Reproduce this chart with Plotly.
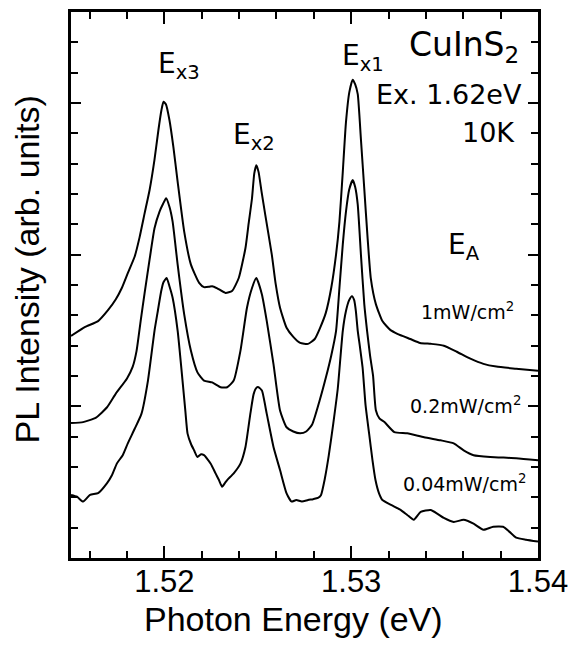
import plotly.graph_objects as go

# ---------------- data ----------------
# Photon energy (eV) and PL intensity (arb. units, offset traces)
e_1mw = [1.51500, 1.51576, 1.51645, 1.51698, 1.51740, 1.51772, 1.51804, 1.51841, 1.51867,
         1.51894, 1.51921, 1.51947, 1.51968, 1.51984, 1.51995, 1.52008, 1.52027, 1.52048,
         1.52071, 1.52106, 1.52142, 1.52186, 1.52212, 1.52239, 1.52256, 1.52283, 1.52327,
         1.52362, 1.52398, 1.52434, 1.52451, 1.52469, 1.52481, 1.52492, 1.52504, 1.52520,
         1.52540, 1.52575, 1.52595, 1.52619, 1.52654, 1.52690, 1.52727, 1.52769, 1.52805,
         1.52833, 1.52864, 1.52893, 1.52919, 1.52937, 1.52955, 1.52972, 1.52990, 1.53008,
         1.53021, 1.53035, 1.53052, 1.53070, 1.53088, 1.53105, 1.53132, 1.53167, 1.53209,
         1.53247, 1.53316, 1.53369, 1.53427, 1.53496, 1.53565, 1.53638, 1.53708, 1.53777,
         1.53883, 1.54000]
i_1mw = [7.32, 7.62, 7.81, 8.17, 8.53, 8.90, 9.39, 9.94, 10.57,
         11.36, 12.14, 13.13, 14.11, 14.76, 15.04, 14.96, 14.44, 13.55,
         12.40, 10.76, 9.67, 9.07, 8.93, 8.94, 8.96, 8.89, 8.74,
         8.80, 9.23, 10.22, 11.03, 11.86, 12.67, 12.95, 12.73, 12.08,
         11.31, 10.00, 9.06, 8.25, 7.59, 7.29, 7.09, 7.06, 7.22,
         7.58, 8.08, 8.90, 10.01, 11.09, 12.73, 14.37, 15.36, 15.77,
         15.62, 15.29, 13.81, 12.17, 10.53, 9.22, 8.37, 7.81, 7.52,
         7.39, 7.22, 7.09, 7.06, 7.00, 6.80, 6.57, 6.40, 6.31,
         6.24, 6.17]

e_02mw = [1.51500, 1.51565, 1.51634, 1.51693, 1.51740, 1.51799, 1.51830, 1.51851, 1.51873,
          1.51894, 1.51921, 1.51947, 1.51974, 1.51993, 1.52009, 1.52027, 1.52044, 1.52071,
          1.52106, 1.52142, 1.52177, 1.52212, 1.52256, 1.52301, 1.52336, 1.52371, 1.52407,
          1.52442, 1.52469, 1.52492, 1.52522, 1.52548, 1.52584, 1.52619, 1.52654, 1.52690,
          1.52727, 1.52759, 1.52791, 1.52831, 1.52864, 1.52893, 1.52919, 1.52937, 1.52955,
          1.52972, 1.52989, 1.53008, 1.53021, 1.53035, 1.53052, 1.53070, 1.53085, 1.53101,
          1.53117, 1.53132, 1.53151, 1.53178, 1.53231, 1.53300, 1.53390, 1.53478, 1.53549,
          1.53602, 1.53655, 1.53744, 1.53883, 1.54000]
i_02mw = [4.45, 4.48, 4.63, 4.97, 5.42, 5.91, 6.30, 6.83, 7.82,
          8.73, 9.85, 10.87, 11.42, 11.68, 11.86, 11.58, 11.09, 9.67,
          8.03, 6.83, 6.12, 5.85, 5.79, 5.63, 5.63, 5.85, 6.83,
          8.25, 8.90, 9.23, 8.69, 7.81, 6.39, 4.86, 4.31, 4.17,
          4.11, 4.17, 4.40, 5.19, 5.94, 6.67, 7.49, 8.90, 10.34,
          11.42, 12.14, 12.46, 12.24, 11.65, 10.01, 8.37, 7.49, 6.67,
          6.01, 4.87, 4.60, 4.48, 4.15, 4.11, 3.98, 3.88, 3.78,
          3.55, 3.39, 3.33, 3.29, 3.22]

e_004mw = [1.51500, 1.51532, 1.51565, 1.51602, 1.51645, 1.51693, 1.51719, 1.51746, 1.51777,
           1.51804, 1.51841, 1.51877, 1.51912, 1.51947, 1.51963, 1.51983, 1.51995, 1.52012,
           1.52027, 1.52044, 1.52071, 1.52097, 1.52112, 1.52124, 1.52143, 1.52159, 1.52177,
           1.52196, 1.52212, 1.52248, 1.52274, 1.52292, 1.52309, 1.52324, 1.52336, 1.52371,
           1.52407, 1.52434, 1.52460, 1.52478, 1.52494, 1.52504, 1.52522, 1.52548, 1.52584,
           1.52619, 1.52654, 1.52681, 1.52706, 1.52736, 1.52769, 1.52796, 1.52822, 1.52838,
           1.52859, 1.52880, 1.52904, 1.52928, 1.52955, 1.52972, 1.52989, 1.53004, 1.53016,
           1.53025, 1.53035, 1.53047, 1.53061, 1.53077, 1.53096, 1.53114, 1.53130, 1.53149,
           1.53167, 1.53213, 1.53266, 1.53300, 1.53335, 1.53372, 1.53425, 1.53464, 1.53496,
           1.53549, 1.53602, 1.53655, 1.53708, 1.53760, 1.53813, 1.53846, 1.53883, 1.53936,
           1.54000]
i_004mw = [2.08, 2.02, 1.86, 2.08, 2.14, 2.47, 2.73, 3.12, 3.39,
           3.78, 4.26, 4.75, 5.85, 7.49, 8.08, 8.80, 9.09, 9.23,
           8.96, 8.58, 7.49, 5.85, 4.86, 4.10, 3.75, 3.55, 3.33,
           3.42, 3.39, 3.11, 2.79, 2.57, 2.35, 2.47, 2.57, 2.79,
           3.11, 3.66, 4.75, 5.41, 5.62, 5.63, 5.52, 4.75, 3.66,
           2.90, 2.13, 1.86, 1.91, 1.86, 1.91, 1.94, 1.98, 2.07,
           2.62, 3.38, 4.43, 5.58, 7.49, 8.14, 8.50, 8.63, 8.50,
           8.14, 7.49, 6.95, 6.28, 5.03, 4.10, 3.22, 2.57, 2.13,
           1.91, 1.75, 1.58, 1.42, 1.26, 1.52, 1.58, 1.45, 1.32,
           1.19, 1.26, 1.13, 0.93, 1.03, 1.03, 0.87, 0.67, 0.60,
           0.54]

x_tickvals = [1.52, 1.53, 1.54]
x_ticktext = ["1.52", "1.53", "1.54"]

# ---------------- figure ----------------
fig = go.Figure()
for ex, iy in [(e_1mw, i_1mw), (e_02mw, i_02mw), (e_004mw, i_004mw)]:
    fig.add_trace(go.Scatter(x=ex, y=iy, mode="lines",
                             line=dict(color="black", width=2, shape="spline", smoothing=0.5),
                             showlegend=False, hoverinfo="skip"))

axis_font = dict(family="Liberation Sans, Arial, sans-serif", size=31, color="black")

fig.update_layout(
    width=577, height=646,
    margin=dict(l=71, r=35, t=9, b=88, pad=0),
    paper_bgcolor="white", plot_bgcolor="white",
    xaxis=dict(range=[1.515, 1.54], tickmode="array", tickvals=x_tickvals, ticktext=x_ticktext,
               ticks="inside", ticklen=12, tickwidth=1.5, tickcolor="black",
               ticklabelstandoff=-6,
               minor=dict(ticks="inside", ticklen=7, tickwidth=1.5, tickcolor="black",
                          tickmode="linear", tick0=1.514, dtick=0.002, showgrid=False),
               showline=True, linewidth=2.5, linecolor="black", mirror="ticks",
               showgrid=False, zeroline=False, tickfont=axis_font),
    yaxis=dict(range=[0, 18], tickmode="linear", tick0=0, dtick=5,
               ticks="inside", ticklen=10, tickwidth=1.5, tickcolor="black",
               minor=dict(ticks="inside", ticklen=7, tickwidth=1.5, tickcolor="black",
                          tickmode="linear", tick0=0, dtick=1, showgrid=False),
               showline=True, linewidth=2.5, linecolor="black", mirror="ticks",
               showgrid=False, zeroline=False, showticklabels=False),
)

title_font = dict(family="Liberation Sans, Arial, sans-serif", size=34, color="black")
fig.add_annotation(text="Photon Energy (eV)", xref="paper", yref="paper",
                   x=0.4756, y=-0.1124, xanchor="center", yanchor="middle",
                   showarrow=False, font=title_font)
fig.add_annotation(text="PL Intensity (arb. units)", xref="paper", yref="paper",
                   x=-0.0934, y=0.529, xanchor="center", yanchor="middle", textangle=-90,
                   showarrow=False, font=title_font)

lab_font = dict(family="DejaVu Sans, sans-serif", color="black")
peak_labels = [
    ("E<sub>x3</sub>", 1.5208, 16.24),
    ("E<sub>x2</sub>", 1.52478, 13.88),
    ("E<sub>x1</sub>", 1.53061, 16.5),
    ("E<sub>A</sub>", 1.53602, 10.27),
]
for txt, xx, yy in peak_labels:
    fig.add_annotation(text=txt, x=xx, y=yy, xanchor="center", yanchor="middle",
                       showarrow=False, font=dict(size=28, **lab_font))

right_labels = [
    ("CuInS<sub>2</sub>", 1.53910, 16.86, 33),
    ("Ex. 1.62eV", 1.53926, 15.29, 27),
    ("10K", 1.53885, 14.04, 27),
]
for txt, xx, yy, sz in right_labels:
    fig.add_annotation(text=txt, x=xx, y=yy, xanchor="right", yanchor="middle",
                       showarrow=False, font=dict(size=sz, **lab_font))

power_labels = [
    ("1mW/cm<sup>2</sup>", 1.53620, 8.14),
    ("0.2mW/cm<sup>2</sup>", 1.53610, 5.06),
    ("0.04mW/cm<sup>2</sup>", 1.53605, 2.47),
]
for txt, xx, yy in power_labels:
    fig.add_annotation(text=txt, x=xx, y=yy, xanchor="center", yanchor="middle",
                       showarrow=False, font=dict(size=19, **lab_font))

fig.write_html("out.html", config={"displayModeBar": False},
               post_script="document.body.style.margin='0';document.body.style.overflow='hidden';")
